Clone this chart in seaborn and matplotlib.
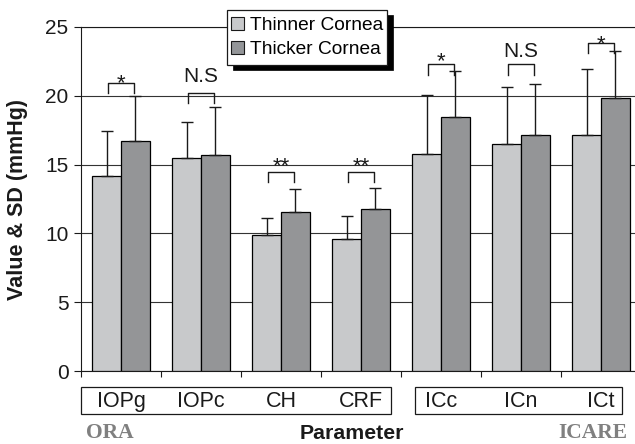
import numpy as np
import pandas as pd
import matplotlib
matplotlib.use("Agg")
import matplotlib.pyplot as plt
from matplotlib.patches import Rectangle
import seaborn as sns

# ---- data ----
params = ["IOPg", "IOPc", "CH", "CRF", "ICc", "ICn", "ICt"]
groups = ["Thinner Cornea", "Thicker Cornea"]
thin_mean = [14.2, 15.5, 9.85, 9.6, 15.8, 16.5, 17.15]
thin_sd = [3.25, 2.6, 1.3, 1.65, 4.25, 4.15, 4.8]
thick_mean = [16.7, 15.7, 11.55, 11.75, 18.45, 17.15, 19.85]
thick_sd = [3.25, 3.45, 1.65, 1.55, 3.35, 3.7, 3.4]
sig_labels = ["*", "N.S", "**", "**", "*", "N.S", "*"]
bracket_top = [20.95, 20.2, 14.47, 14.47, 22.28, 22.28, 23.85]
label_base = [20.45, 21.0, 14.45, 14.45, 22.05, 22.84, 23.35]
yticks = [0, 5, 10, 15, 20, 25]

thin_color = "#c8c9cb"
thick_color = "#939598"

plt.rcParams["font.family"] = ["Liberation Sans", "DejaVu Sans"]

W, H = 635, 444
fig = plt.figure(figsize=(W / 100, H / 100), dpi=100)
ax = fig.add_axes([81 / W, 1 - 371 / H, 560 / W, 344 / H])

df = pd.DataFrame({
    "Parameter": params * 2,
    "Group": [groups[0]] * len(params) + [groups[1]] * len(params),
    "Value": thin_mean + thick_mean,
})

sns.barplot(data=df, x="Parameter", y="Value", hue="Group", order=params,
            hue_order=groups, palette=[thin_color, thick_color], width=0.72,
            gap=0, errorbar=None, edgecolor="black", linewidth=0.9,
            legend=False, ax=ax, zorder=3)

# error bars (upper only)
for cont, means, sds in zip(ax.containers, [thin_mean, thick_mean], [thin_sd, thick_sd]):
    xs = [b.get_x() + b.get_width() / 2 for b in cont]
    ax.errorbar(xs, means, yerr=[np.zeros(len(sds)), sds], fmt="none",
                ecolor="#1a1a1a", elinewidth=1.0, capsize=4, capthick=1.0, zorder=4)

# significance brackets
thin_x = [b.get_x() + b.get_width() / 2 for b in ax.containers[0]]
thick_x = [b.get_x() + b.get_width() / 2 for b in ax.containers[1]]
leg_len = 0.75
for i in range(len(params)):
    x0 = thin_x[i] + 0.015
    x1 = thick_x[i] - 0.015
    yt = bracket_top[i]
    ax.plot([x0, x0, x1, x1], [yt - leg_len, yt, yt, yt - leg_len],
            color="#1a1a1a", lw=1.0, zorder=5, clip_on=False)
    ax.text((x0 + x1) / 2, label_base[i], sig_labels[i], ha="center",
            va="baseline", fontsize=15 if sig_labels[i] == "N.S" else 16,
            color="#1a1a1a", zorder=6)

# axes styling
ax.set_xlim(-0.5, 6.5)
ax.set_ylim(0, 25)
ax.set_yticks(yticks)
ax.set_yticklabels([str(t) for t in yticks], fontsize=15)
ax.set_xticks(np.arange(-0.5, 7.0, 1.0))
ax.set_xticklabels([])
ax.tick_params(axis="y", direction="out", length=5, width=0.8, pad=4, colors="#1a1a1a")
ax.tick_params(axis="x", direction="out", length=4.5, width=0.8, colors="#1a1a1a")
ax.set_axisbelow(True)
ax.yaxis.grid(True, color="#333333", lw=0.8)
ax.xaxis.grid(False)
ax.set_facecolor("white")
for s in ["left", "bottom", "top"]:
    ax.spines[s].set_color("#1a1a1a")
    ax.spines[s].set_linewidth(0.8)
ax.spines["right"].set_visible(False)
ax.set_xlabel("")
ax.set_ylabel("")

# category labels in boxes
xt = ax.get_xaxis_transform()
for i, p in enumerate(params):
    ax.text(i, -0.088, p, transform=xt, ha="center", va="center",
            fontsize=15.5, color="#1a1a1a", clip_on=False)
for (xa, xb) in [(-0.5, 3.37), (3.68, 6.26)]:
    ax.add_patch(Rectangle((xa, -0.126), xb - xa, 0.079, transform=xt,
                           fill=False, edgecolor="#1a1a1a", lw=0.9, clip_on=False))

# legend box: black drop shadow + white framed box, then frameless legend on top
ax.add_patch(Rectangle((233 / W, 1 - 70 / H), 160 / W, 55 / H,
                       transform=fig.transFigure, facecolor="black",
                       edgecolor="black", lw=0.5, zorder=8, clip_on=False))
ax.add_patch(Rectangle((227 / W, 1 - 65 / H), 160 / W, 55 / H,
                       transform=fig.transFigure, facecolor="white",
                       edgecolor="#1a1a1a", lw=0.9, zorder=8.5, clip_on=False))
handles = [Rectangle((0, 0), 1, 1, facecolor=c, edgecolor="#1a1a1a", lw=0.8)
           for c in [thin_color, thick_color]]
leg = ax.legend(handles, groups, loc="center",
                bbox_to_anchor=(307 / W, 1 - 37.5 / H), bbox_transform=fig.transFigure,
                frameon=False, borderaxespad=0, handlelength=0.7, handleheight=0.7,
                handletextpad=0.3, borderpad=0.2, labelspacing=0.35, fontsize=13.8)
leg.set_zorder(10)

# outer texts
fig.text(18 / W, 1 - 199 / H, "Value & SD (mmHg)", rotation=90, ha="center",
         va="center", fontsize=15.5, fontweight="bold", color="#1a1a1a")
fig.text(351.7 / W, 1 / H, "Parameter", ha="center", va="bottom",
         fontsize=15.3, fontweight="bold", color="#1a1a1a")
fig.text(86 / W, 1 / H, "ORA", ha="left", va="bottom", fontsize=15.5,
         fontweight="bold", color="#808080", family=["Liberation Serif"])
fig.text(627 / W, 1 / H, "ICARE", ha="right", va="bottom", fontsize=15.5,
         fontweight="bold", color="#808080", family=["Liberation Serif"])

fig.savefig("out.png", dpi=100)
